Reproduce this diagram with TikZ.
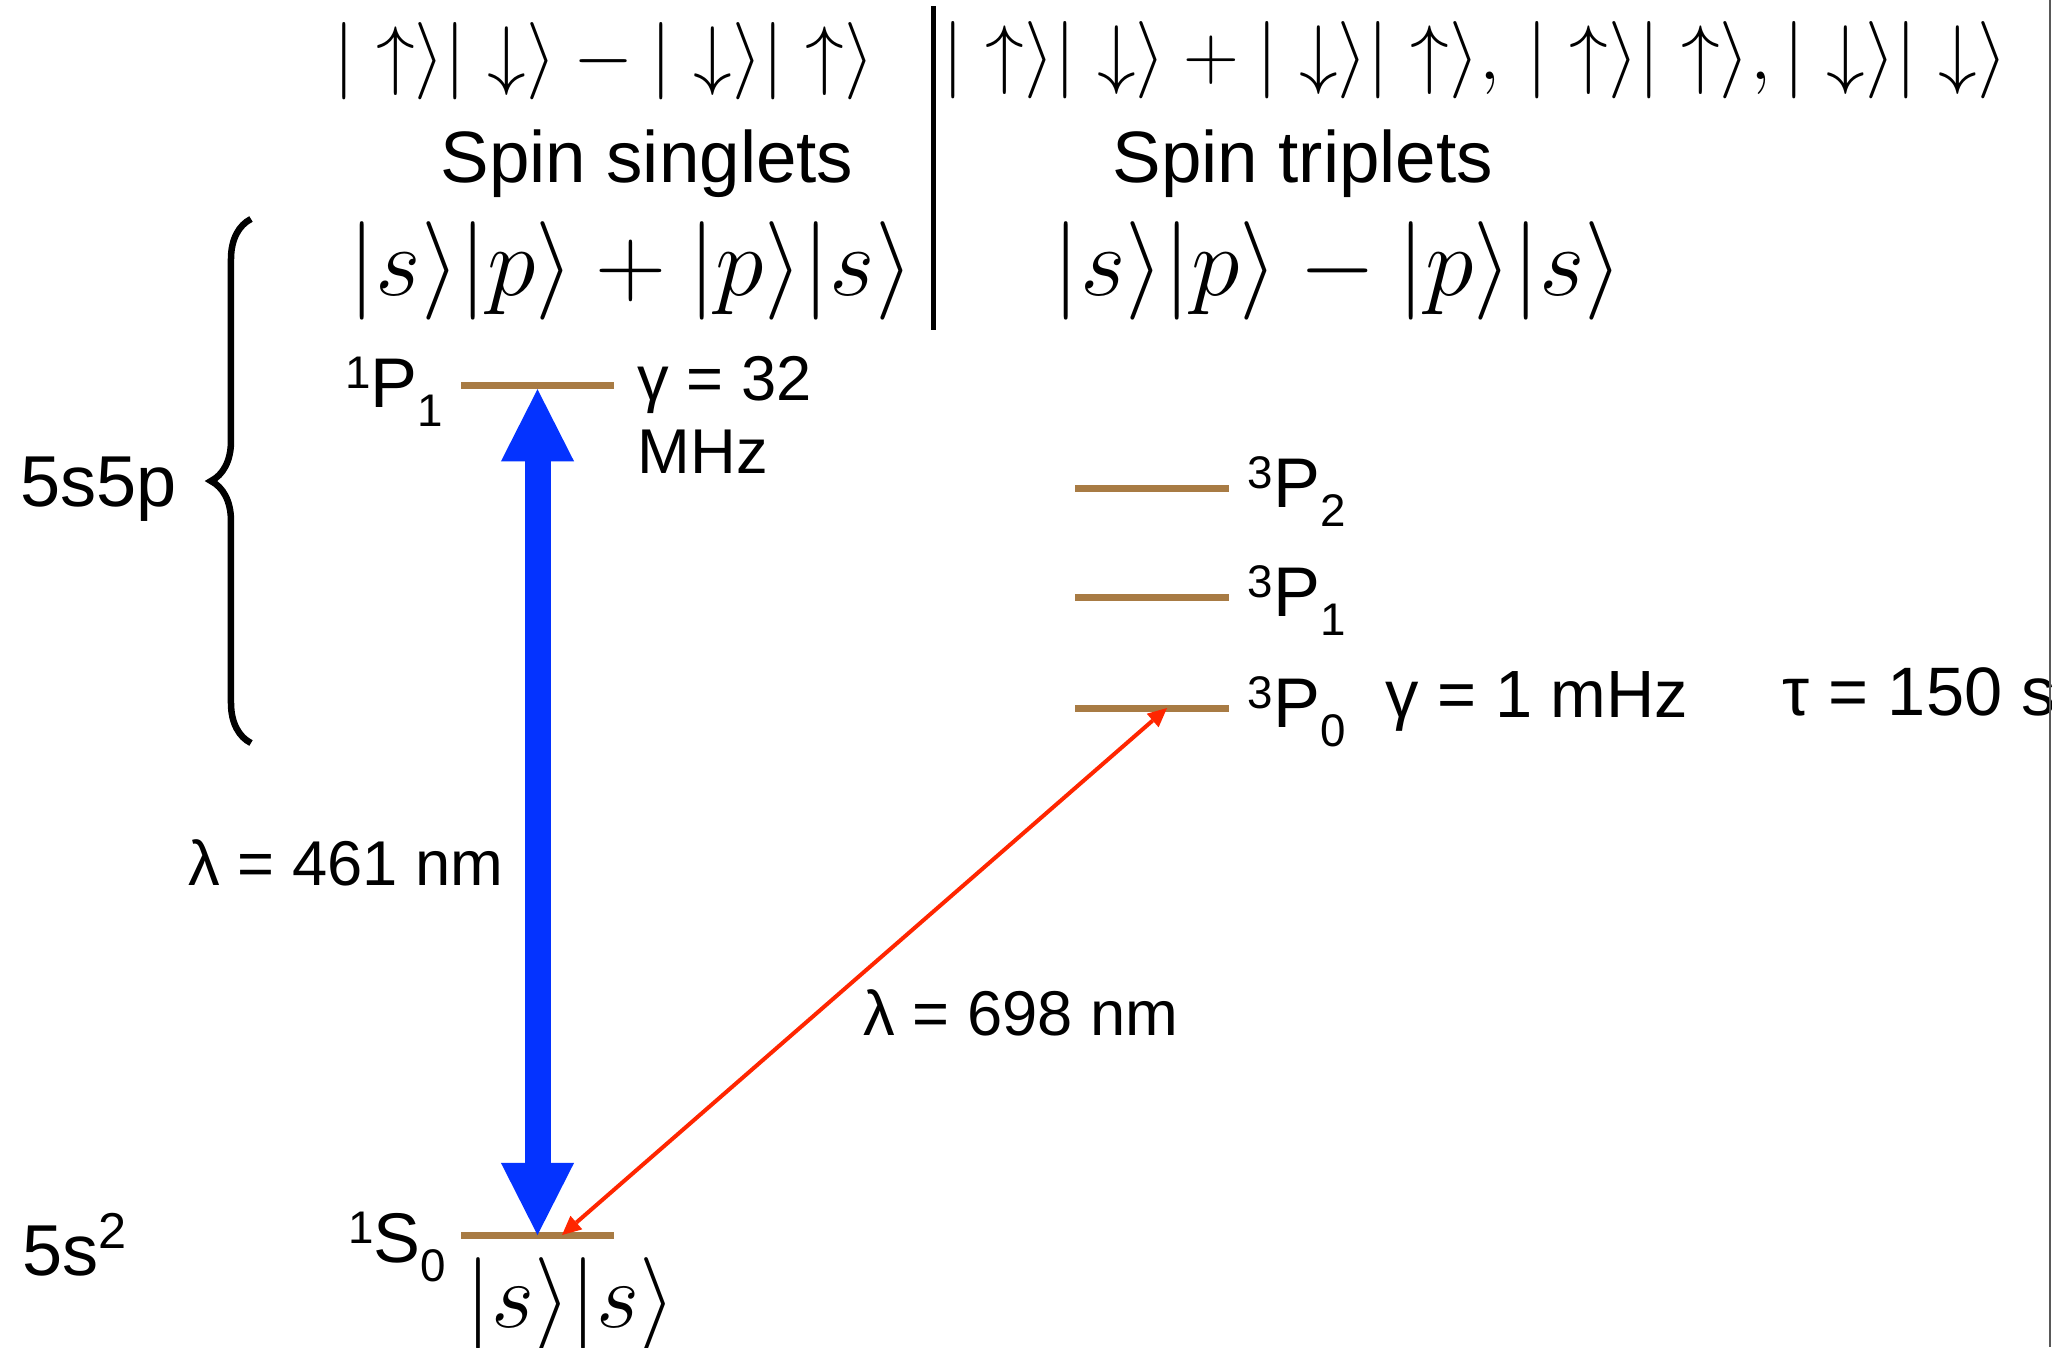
\documentclass[tikz,border=0pt]{standalone}
\usepackage{fix-cm}
\usepackage[no-math]{fontspec}
\setmainfont{Liberation Sans}
\usetikzlibrary{arrows.meta,decorations.pathreplacing}
\definecolor{lvlbrown}{RGB}{168,123,68}
\definecolor{pumpblue}{RGB}{4,51,255}
\definecolor{clockred}{RGB}{255,38,0}
\newcommand{\term}[3]{\raisebox{0.26em}{\scalebox{0.65}{#1}}#2\raisebox{-0.28em}{\scalebox{0.65}{#3}}}
\newcommand{\spk}[1]{|#1\rangle}

\begin{document}
\begin{tikzpicture}[
  x=0.01cm, y=-0.01cm,
  every node/.style={inner sep=0pt},
  lvl/.style={fill=lvlbrown,minimum width=1.53cm,minimum height=0.07cm},
  titletxt/.style={font=\fontsize{20.7}{24}\selectfont},
  termtxt/.style={font=\fontsize{20}{24}\selectfont},
  sidetxt/.style={font=\fontsize{20.5}{24}\selectfont},
  valtxt/.style={font=\fontsize{18}{21}\selectfont},
  spinket/.style={font=\fontsize{22}{26}\selectfont},
  orbket/.style={font=\fontsize{28}{32}\selectfont},
  pumparrow/.style={color=pumpblue,line width=0.26cm,
    {Triangle[length=0.72cm,width=0.73cm,line width=0pt]}-{Triangle[length=0.72cm,width=0.73cm,line width=0pt]}},
  clockarrow/.style={color=clockred,line width=0.04cm,
    {Triangle[length=0.19cm,width=0.18cm,line width=0pt]}-{Triangle[length=0.19cm,width=0.18cm,line width=0pt]}},
  bracestroke/.style={decorate,decoration={brace,amplitude=0.4cm},line width=0.065cm},
]
  \useasboundingbox (0,0) rectangle (2052,1347);

  % Spin and orbital states
  \node[spinket] (singspin) at (604,61)
    {$\spk{\uparrow}\spk{\downarrow} - \spk{\downarrow}\spk{\uparrow}$};
  \node[spinket] (tripspin) at (1475,60)
    {$\spk{\uparrow}\spk{\downarrow} + \spk{\downarrow}\spk{\uparrow},\,\spk{\uparrow}\spk{\uparrow},\spk{\downarrow}\spk{\downarrow}$};
  \node[titletxt,anchor=base west] (singtitle) at (440,182) {Spin singlets};
  \node[titletxt,anchor=base west] (triptitle) at (1112,182) {Spin triplets};
  \node[orbket] (singorb) at (631,271) {$|s\rangle|p\rangle + |p\rangle|s\rangle$};
  \node[orbket] (triporb) at (1338,271) {$|s\rangle|p\rangle - |p\rangle|s\rangle$};
  \draw[line width=0.05cm] (933,6) -- (933,330);

  % Levels
  \node[lvl] (P1s) at (537.5,385) {};
  \node[lvl] (S0) at (537.5,1235) {};
  \node[lvl] (P2t) at (1152,488) {};
  \node[lvl] (P1t) at (1152,597) {};
  \node[lvl] (P0t) at (1152,708) {};

  \node[termtxt,anchor=base east] (P1slab) at (444,407) {\term{1}{P}{1}};
  \node[termtxt,anchor=base east] (S0lab) at (447,1262) {\term{1}{S}{0}};
  \node[termtxt,anchor=base west] (P2lab) at (1247,507) {\term{3}{P}{2}};
  \node[termtxt,anchor=base west] (P1lab) at (1247,616) {\term{3}{P}{1}};
  \node[termtxt,anchor=base west] (P0lab) at (1247,727) {\term{3}{P}{0}};
  \node[orbket,font=\fontsize{26.5}{30}\selectfont] (groundorb) at (571,1304) {$|s\rangle|s\rangle$};

  % Configurations
  \node[sidetxt,anchor=base west] (excconf) at (20,506) {5s5p};
  \node[sidetxt,anchor=base west] (gndconf) at (22,1275) {5s\textsuperscript{2}};
  \draw[bracestroke] (251,743) -- (251,219);

  % Widths and wavelengths
  \node[valtxt,anchor=base west] (P1swidth) at (637,400) {γ = 32};
  \node[valtxt,anchor=base west] (P1sunit) at (637,473) {MHz};
  \node[valtxt,font=\fontsize{19}{22}\selectfont,anchor=base west] (P0twidth) at (1385,717) {γ = 1 mHz};
  \node[valtxt,font=\fontsize{19.5}{22}\selectfont,anchor=base west] (P0tlife) at (1782,715) {τ = 150 s};
  \node[valtxt,anchor=base west] (bluewl) at (188,885) {λ = 461 nm};
  \node[valtxt,anchor=base west] (redwl) at (863,1035) {λ = 698 nm};

  % Transitions
  \draw[pumparrow] (S0.center) -- (P1s.south);
  \draw[clockarrow] ([xshift=0.245cm]S0.center) -- ([xshift=0.15cm]P0t.center);

  \draw[black!65,line width=0.02cm] (2050,0) -- (2050,1347);
\end{tikzpicture}
\end{document}
